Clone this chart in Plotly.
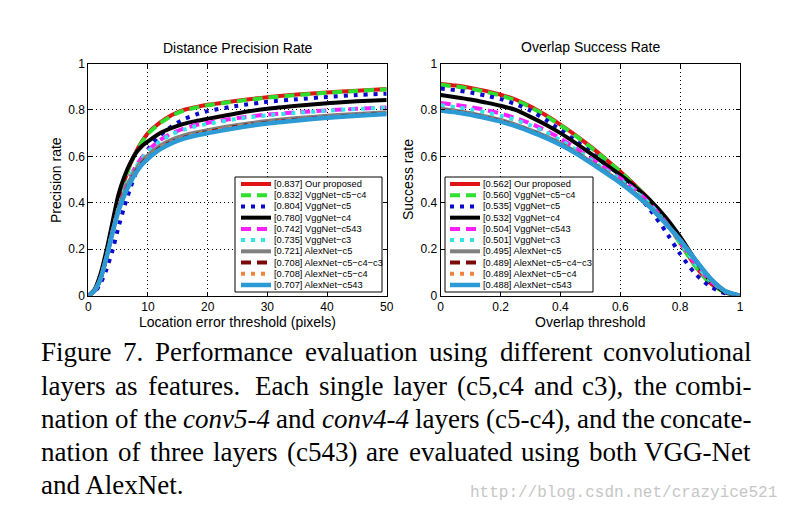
import plotly.graph_objects as go

W, H = 792, 515
OFF = 8  # page body margin compensation

# ---------------- data ----------------
names = ["Our proposed", "VggNet\u2212c5\u2212c4", "VggNet\u2212c5", "VggNet\u2212c4", "VggNet\u2212c543",
         "VggNet\u2212c3", "AlexNet\u2212c5", "AlexNet\u2212c5\u2212c4\u2212c3", "AlexNet\u2212c5\u2212c4", "AlexNet\u2212c543"]
dp_scores = [0.837, 0.832, 0.804, 0.780, 0.742, 0.735, 0.721, 0.708, 0.708, 0.707]
os_scores = [0.562, 0.560, 0.535, 0.532, 0.504, 0.501, 0.495, 0.489, 0.489, 0.488]

dp_x = [0, 1, 2, 3, 4, 5, 6, 7, 8, 9, 10, 12, 14, 16, 18, 20, 25, 30, 35, 40, 45, 50]
dp_our      = [0, .02, .07, .16, .28, .40, .49, .565, .62, .665, .70, .745, .778, .80, .812, .822, .84, .855, .866, .875, .883, .89]
dp_vgg_c5c4 = [0, .02, .07, .16, .28, .40, .49, .562, .618, .662, .697, .742, .775, .797, .81, .82, .838, .853, .864, .874, .882, .889]
dp_vgg_c5   = [0, .015, .05, .11, .19, .29, .38, .46, .53, .585, .63, .69, .73, .76, .78, .795, .818, .835, .846, .856, .864, .87]
dp_vgg_c4   = [0, .025, .09, .19, .31, .43, .51, .57, .615, .645, .665, .70, .723, .74, .752, .762, .786, .805, .818, .829, .837, .843]
dp_vgg_c543 = [0, .02, .07, .16, .27, .37, .45, .51, .56, .595, .625, .67, .70, .72, .735, .745, .765, .78, .79, .798, .805, .81]
dp_vgg_c3   = [0, .02, .07, .16, .27, .37, .45, .51, .555, .59, .62, .665, .695, .715, .73, .74, .762, .777, .788, .797, .804, .81]
dp_alex_c5  = [0, .02, .07, .16, .27, .37, .44, .50, .545, .58, .605, .645, .672, .69, .703, .713, .735, .752, .765, .775, .783, .79]
dp_alex_c543c = [0, .02, .07, .16, .27, .365, .435, .49, .535, .57, .595, .635, .662, .68, .695, .705, .728, .745, .758, .768, .777, .785]
dp_alex_c5c4 = [0, .02, .07, .16, .27, .365, .435, .49, .535, .57, .595, .635, .662, .68, .695, .705, .728, .745, .758, .768, .777, .785]
dp_alex_c543 = [0, .02, .07, .16, .265, .36, .43, .485, .53, .565, .59, .63, .657, .676, .69, .70, .723, .742, .755, .766, .775, .783]

os_x = [0, .05, .1, .15, .2, .25, .3, .35, .4, .45, .5, .55, .6, .65, .7, .75, .8, .85, .9, .95, 1.0]
os_our      = [.912, .905, .895, .882, .866, .845, .815, .778, .737, .692, .643, .59, .535, .475, .41, .325, .228, .13, .055, .015, 0]
os_vgg_c5c4 = [.908, .901, .891, .878, .862, .841, .812, .775, .734, .689, .64, .588, .533, .473, .408, .322, .225, .128, .054, .014, 0]
os_vgg_c5   = [.892, .885, .875, .862, .847, .825, .797, .758, .714, .668, .62, .567, .512, .445, .37, .28, .18, .095, .04, .01, 0]
os_vgg_c4   = [.864, .855, .845, .832, .818, .80, .77, .737, .70, .658, .613, .567, .52, .468, .41, .34, .254, .155, .065, .015, 0]
os_vgg_c543 = [.83, .822, .812, .80, .785, .765, .742, .712, .677, .636, .592, .548, .505, .455, .395, .32, .232, .14, .065, .018, 0]
os_vgg_c3   = [.82, .812, .802, .79, .775, .757, .734, .705, .67, .63, .587, .543, .5, .45, .392, .318, .232, .14, .066, .018, 0]
os_alex_c5  = [.805, .797, .786, .772, .757, .737, .713, .687, .656, .62, .578, .535, .49, .44, .383, .315, .24, .155, .075, .02, 0]
os_alex_c543c = [.80, .792, .781, .767, .752, .732, .709, .683, .652, .616, .575, .532, .487, .437, .381, .313, .24, .155, .075, .02, 0]
os_alex_c5c4 = [.80, .792, .781, .767, .752, .732, .709, .683, .652, .616, .575, .532, .487, .437, .381, .313, .24, .155, .075, .02, 0]
os_alex_c543 = [.798, .79, .779, .765, .75, .73, .707, .681, .65, .614, .573, .53, .486, .436, .38, .313, .24, .156, .076, .02, 0]

dp_series = [dp_our, dp_vgg_c5c4, dp_vgg_c5, dp_vgg_c4, dp_vgg_c543, dp_vgg_c3,
             dp_alex_c5, dp_alex_c543c, dp_alex_c5c4, dp_alex_c543]
os_series = [os_our, os_vgg_c5c4, os_vgg_c5, os_vgg_c4, os_vgg_c543, os_vgg_c3,
             os_alex_c5, os_alex_c543c, os_alex_c5c4, os_alex_c543]

caption_lines = [
    "Figure 7. Performance evaluation using different convolutional",
    "layers as features.  Each single layer (c5,c4 and c3), the combi-",
    "nation of the *conv5-4* and *conv4-4* layers (c5-c4), and the concate-",
    "nation of three layers (c543) are evaluated using both VGG-Net",
    "and AlexNet.",
]
watermark = "http://blog.csdn.net/crazyice521"

# ---------------- styles ----------------
colors = ["#E01414", "#2EE02E", "#0A0ACC", "#000000", "#FF1EFF",
          "#30E6E6", "#808080", "#7A0A0A", "#F0843E", "#2C9AD4"]
dashes = ["solid", "10px,6px", "4px,6px", "solid", "10px,6px",
          "4px,6px", "solid", "10px,6px", "4px,6px", "solid"]
widths = [4, 4, 4, 4, 4, 4, 4, 4, 4, 4.5]

SANS = "Liberation Sans"
SERIF = "Liberation Serif"

def px(x):
    return (x - OFF) / W

def py(y):
    return 1 - (y - OFF) / H

fig = go.Figure()
for i, ys in enumerate(dp_series):
    fig.add_trace(go.Scatter(x=dp_x, y=ys, mode="lines", name=names[i], showlegend=False,
                             line=dict(color=colors[i], width=widths[i], dash=dashes[i],
                                       shape="spline", smoothing=0.6),
                             xaxis="x", yaxis="y"))
for i, ys in enumerate(os_series):
    fig.add_trace(go.Scatter(x=os_x, y=ys, mode="lines", name=names[i], showlegend=False,
                             line=dict(color=colors[i], width=widths[i], dash=dashes[i],
                                       shape="spline", smoothing=0.6),
                             xaxis="x2", yaxis="y2"))

axis_common = dict(showline=True, linecolor="black", linewidth=1, mirror="ticks",
                   ticks="inside", ticklen=4, tickcolor="black", automargin=False,
                   showgrid=True, gridcolor="black", gridwidth=1, griddash="1px,3px",
                   zeroline=False, tickfont=dict(family=SANS, size=12, color="black"))

ydom = [py(295.7), py(63.5)]
fig.update_layout(
    template="none",
    width=W, height=H, margin=dict(l=0, r=0, t=0, b=0, pad=0, autoexpand=False),
    paper_bgcolor="white", plot_bgcolor="white",
    xaxis=dict(domain=[px(88.3), px(386.7)], range=[0, 50], dtick=10, anchor="y", **axis_common),
    yaxis=dict(domain=ydom, range=[0, 1], dtick=0.2, anchor="x", **axis_common),
    xaxis2=dict(domain=[px(440.7), px(740)], range=[0, 1], dtick=0.2, anchor="y2", **axis_common),
    yaxis2=dict(domain=ydom, range=[0, 1], dtick=0.2, anchor="x2", **axis_common),
    showlegend=False,
)

ann = []
shapes = []

def text(x, y, s, size, family=SANS, xanchor="center", yanchor="middle", color="black", angle=0):
    ann.append(dict(x=px(x), y=py(y), xref="paper", yref="paper", text=s, showarrow=False,
                    xanchor=xanchor, yanchor=yanchor, textangle=angle, borderpad=0,
                    font=dict(family=family, size=size, color=color)))

# titles and axis titles
text(237.5, 48, "Distance Precision Rate", 14)
text(590.4, 47, "Overlap Success Rate", 14)
text(237.5, 322, "Location error threshold (pixels)", 14)
text(590.4, 322, "Overlap threshold", 14)
text(56, 180, "Precision rate", 14, angle=-90)
text(408, 180, "Success rate", 14, angle=-90)

# custom compact legends
def legend(box, x0, scores):
    bx0, by0, bx1, by1 = box
    shapes.append(dict(type="rect", xref="paper", yref="paper", x0=px(bx0), x1=px(bx1),
                       y0=py(by1), y1=py(by0), fillcolor="white",
                       line=dict(color="black", width=1), layer="above"))
    for i in range(len(names)):
        yc = 184 + i * 11.22
        shapes.append(dict(type="line", xref="paper", yref="paper", x0=px(x0), x1=px(x0 + 30),
                           y0=py(yc), y1=py(yc), layer="above",
                           line=dict(color=colors[i], width=widths[i], dash=dashes[i])))
        text(x0 + 31.5, yc, "[%.3f] %s" % (scores[i], names[i]), 9.3, xanchor="left")

legend((235, 177, 382, 292), 241, dp_scores)
legend((445, 177, 593, 292), 450, os_scores)

# caption (justified, word by word)
roman = {' ': 250, '(': 333, ')': 333, ',': 250, '-': 333, '.': 250, '/': 278,
         'A': 722, 'E': 611, 'F': 556, 'G': 722, 'N': 722, 'P': 556, 'V': 722,
         'a': 444, 'b': 500, 'c': 444, 'd': 500, 'e': 444, 'f': 333, 'g': 500, 'h': 500,
         'i': 278, 'j': 278, 'k': 500, 'l': 278, 'm': 778, 'n': 500, 'o': 500, 'p': 500,
         'q': 500, 'r': 333, 's': 389, 't': 278, 'u': 500, 'v': 500, 'w': 722, 'x': 500,
         'y': 500, 'z': 444}
italic = {'c': 444, 'o': 500, 'n': 500, 'v': 444, '-': 333}
CFS = 27
LEFT, RIGHT = 40, 752
baselines = [361, 395, 428, 461, 494]

def wwidth(w, it):
    tbl = italic if it else roman
    return sum(tbl.get(ch, 500) for ch in w) / 1000.0 * CFS

for li, line in enumerate(caption_lines):
    yc = baselines[li] - 0.34 * CFS
    if li == len(caption_lines) - 1:
        text(LEFT, yc, line, CFS, family=SERIF, xanchor="left")
        continue
    parts = line.split(" ")
    words = []
    extra = []
    for p in parts:
        if p == "":
            extra[-1] += 0.5
            continue
        words.append(p)
        extra.append(1.0)
    info = [(w.strip("*"), w.startswith("*")) for w in words]
    total = sum(wwidth(w, it) for w, it in info)
    gaps = extra[:-1]
    g = (RIGHT - LEFT - total) / sum(gaps)
    x = LEFT
    for k, (w, it) in enumerate(info):
        s = "<i>%s</i>" % w if it else w
        if k == len(info) - 1:
            text(RIGHT, yc, s, CFS, family=SERIF, xanchor="right")
        else:
            text(x, yc, s, CFS, family=SERIF, xanchor="left")
            x += wwidth(w, it) + g * gaps[k]

text(778, 493, watermark, 16, family="Liberation Mono", xanchor="right", color="#c6c6c6")

fig.update_layout(annotations=ann, shapes=shapes)
fig.write_html("out.html")
